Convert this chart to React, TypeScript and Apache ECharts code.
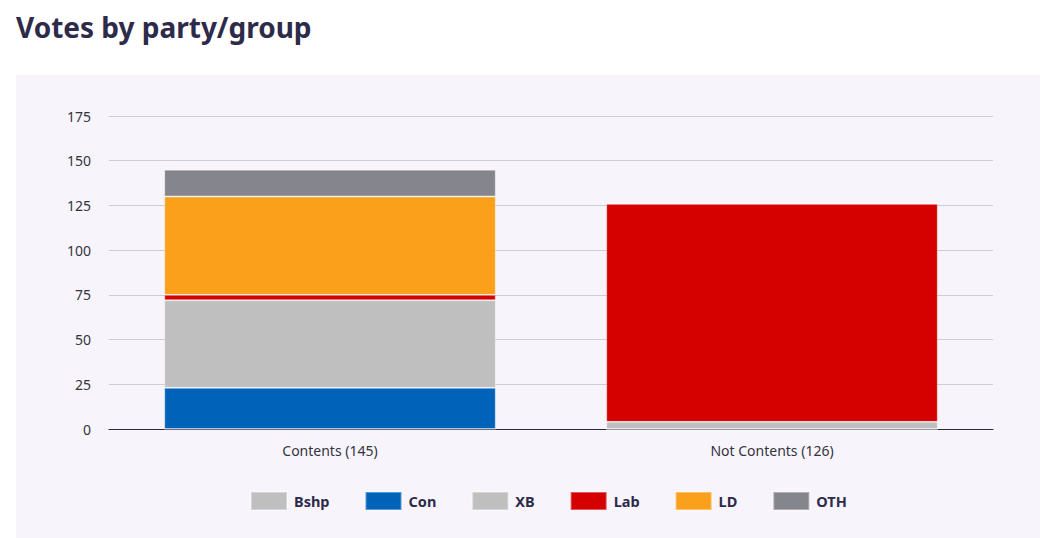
import React, { useEffect, useRef } from "react";
import * as echarts from "echarts";

const categories = ["Contents (145)", "Not Contents (126)"];
const seriesNames = ["Bshp", "Con", "XB", "Lab", "LD", "OTH"];
const bshp = [0, 0];
const con = [23, 0];
const xb = [49, 4];
const lab = [3, 122];
const ld = [55, 0];
const oth = [15, 0];
const yTicks = { min: 0, max: 175, interval: 25 };

const colors: Record<string, string> = {
  Bshp: "#bfbfbf",
  Con: "#0063ba",
  XB: "#bfbfbf",
  Lab: "#d50000",
  LD: "#faa01a",
  OTH: "#85858d",
};

export default function App() {
  const ref = useRef<HTMLDivElement>(null);
  useEffect(() => {
    document.body.style.margin = "0";
    const chart = echarts.init(ref.current!, null, { renderer: "svg" });
    const values = [bshp, con, xb, lab, ld, oth];
    chart.setOption({
      animation: false,
      backgroundColor: "#ffffff",
      textStyle: { fontFamily: "Noto Sans" },
      graphic: [
        {
          type: "rect",
          z: -10,
          silent: true,
          shape: { x: 16, y: 75, width: 1024, height: 463 },
          style: { fill: "#f7f5fb" },
        },
        {
          type: "text",
          left: 16,
          top: 13,
          style: {
            text: "Votes by party/group",
            fill: "#2d2a4a",
            font: "bold 28px 'Noto Sans'",
          },
        },
      ],
      grid: { left: 109, right: 47, top: 116, bottom: 109 },
      legend: {
        left: 245,
        top: 486,
        itemWidth: 36,
        itemHeight: 18,
        itemGap: 35,
        icon: "rect",
        selectedMode: false,
        textStyle: {
          color: "#2d2a4a",
          fontWeight: "bold",
          fontSize: 14.5,
          fontFamily: "Noto Sans",
          padding: [0, 0, 0, 2],
        },
        data: seriesNames,
      },
      xAxis: {
        type: "category",
        data: categories,
        axisLine: { lineStyle: { color: "#2d2a3a", width: 1 } },
        axisTick: { show: false },
        axisLabel: { color: "#333340", fontSize: 14, margin: 14 },
      },
      yAxis: {
        type: "value",
        min: yTicks.min,
        max: yTicks.max,
        interval: yTicks.interval,
        axisLine: { show: false },
        axisTick: { show: false },
        axisLabel: { color: "#333340", fontSize: 14, margin: 18 },
        splitLine: { lineStyle: { color: "#cfccd6", width: 1 } },
      },
      series: seriesNames.map((name, i) => ({
        name,
        type: "bar",
        stack: "total",
        barWidth: "75%",
        data: values[i],
        itemStyle: {
          color: colors[name],
          borderColor: "rgba(255,255,255,0.35)",
          borderWidth: 1,
        },
        emphasis: { disabled: true },
      })),
    });
    return () => chart.dispose();
  }, []);
  return <div ref={ref} style={{ width: 1040, height: 538 }} />;
}
